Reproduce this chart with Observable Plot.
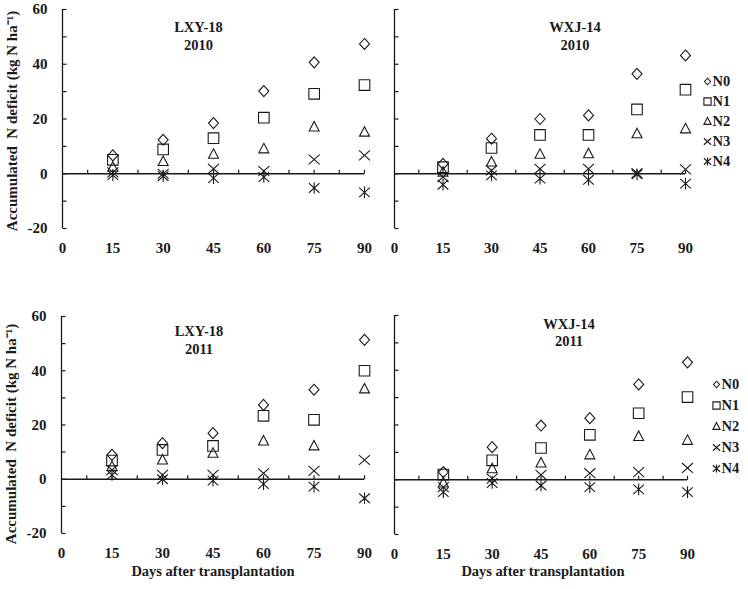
<!DOCTYPE html>
<html><head><meta charset="utf-8">
<script src="https://cdn.jsdelivr.net/npm/d3@7"></script>
<script src="https://cdn.jsdelivr.net/npm/@observablehq/plot@0.6"></script>
<style>
body{margin:0;background:#fff;}
#chart{position:relative;width:748px;height:589px;background:#fff;}
#chart svg{position:absolute;overflow:visible;}
</style></head><body><div id="chart"></div>
<script>
const days = [15, 30, 45, 60, 75, 90];
const series = ["N0", "N1", "N2", "N3", "N4"];
const xTicks = [0, 15, 30, 45, 60, 75, 90];
const xMinorTicks = [7.5, 15, 22.5, 30, 37.5, 45, 52.5, 60, 67.5, 75, 82.5, 90];
const yTicks = [-20, -10, 0, 10, 20, 30, 40, 50, 60];
const yLabels = [-20, 0, 20, 40, 60];
const yTitle = "Accumulated  N deficit (kg N ha\u207B\u00B9)";
const xTitle = "Days after transplantation";

// rows: N0..N4, columns: 15..90 days
const lxy2010 = [
  [6.7, 12.4, 18.5, 30.2, 40.7, 47.4],
  [5.1, 8.9, 13.0, 20.5, 29.2, 32.4],
  [2.4, 4.5, 7.1, 9.1, 17.1, 15.2],
  [0.5, 0.0, 1.8, 1.0, 5.2, 6.7],
  [-0.5, -0.9, -1.6, -1.2, -5.2, -6.8]
];
const wxj2010 = [
  [3.6, 12.8, 20.0, 21.3, 36.5, 43.2],
  [2.4, 9.4, 14.2, 14.2, 23.5, 30.7],
  [0.6, 4.3, 7.1, 7.3, 14.6, 16.4],
  [-1.2, 1.2, 1.8, 1.8, 0.2, 1.6],
  [-4.0, -0.6, -1.8, -2.2, -0.2, -3.6]
];
const lxy2011 = [
  [9.0, 13.3, 17.0, 27.4, 33.0, 51.4],
  [6.9, 10.8, 12.3, 23.4, 21.9, 40.0],
  [4.7, 7.1, 9.6, 14.1, 12.3, 33.3],
  [3.4, 1.6, 1.6, 2.2, 3.1, 7.1],
  [1.6, 0.0, -0.5, -1.8, -2.7, -7.0]
];
const wxj2011 = [
  [2.8, 11.9, 19.8, 22.5, 34.8, 42.9],
  [1.9, 7.1, 11.6, 16.4, 24.3, 30.2],
  [-1.2, 4.0, 6.1, 9.1, 15.8, 14.4],
  [-2.7, 0.4, 1.8, 2.4, 2.8, 4.3],
  [-4.5, -1.2, -2.1, -2.7, -3.5, -4.5]
];

const FONT = "Liberation Serif, Times New Roman, serif";
const INK = "#1a1a1a";
const rad = s => Math.sqrt(s / Math.PI);
const symbols = [
  {draw(c, s) { const r = rad(s); c.moveTo(0, -r * 1.1); c.lineTo(r, 0); c.lineTo(0, r * 1.1); c.lineTo(-r, 0); c.closePath(); }},
  {draw(c, s) { const r = rad(s); c.rect(-r, -r, 2 * r, 2 * r); }},
  {draw(c, s) { const r = rad(s); c.moveTo(0, -r * 1.1); c.lineTo(r, r * 0.8); c.lineTo(-r, r * 0.8); c.closePath(); }},
  {draw(c, s) { const r = rad(s); c.moveTo(-r, -r * 0.9); c.lineTo(r, r * 0.9); c.moveTo(-r, r * 0.9); c.lineTo(r, -r * 0.9); }},
  {draw(c, s) { const r = rad(s); c.moveTo(-r, -r * 0.9); c.lineTo(r, r * 0.9); c.moveTo(-r, r * 0.9); c.lineTo(r, -r * 0.9); c.moveTo(0, -r * 1.1); c.lineTo(0, r * 1.1); }}
];
const markR = [5, 5.3, 5, 5.5, 5.3];
const legendR = [3, 3.6, 3.6, 3.6, 3.6];
const tickUp = {draw(c, s) { const r = rad(s); c.moveTo(0, 0); c.lineTo(0, -r); }};
const tickRight = {draw(c, s) { const r = rad(s); c.moveTo(0, 0); c.lineTo(r, 0); }};

const chart = document.getElementById("chart");

function panel(cfg) {
  const marks = [
    Plot.ruleX([0], {stroke: INK, strokeWidth: 1.3}),
    Plot.ruleY([0], {x1: 0, x2: 90, stroke: INK, strokeWidth: 1.3}),
    Plot.dot(xMinorTicks, {x: d => d, y: 0, symbol: tickUp, r: 4, stroke: INK, strokeWidth: 1.2}),
    Plot.dot(yTicks, {x: 0, y: d => d, symbol: tickRight, r: 4, stroke: INK, strokeWidth: 1.2}),
    Plot.axisX({ticks: xTicks, tickSize: 0, tickPadding: 14, tickFormat: d => String(d),
      fontSize: 15, fontWeight: "bold", fill: INK, label: null}),
    Plot.text([cfg.title], {frameAnchor: "top", lineAnchor: "top", dx: cfg.tdx, dy: cfg.tdy,
      fontSize: 14.5, fontWeight: "bold", fill: INK, lineHeight: cfg.lh})
  ];
  if (cfg.yLabels) {
    marks.push(Plot.text(yLabels, {x: 0, y: d => d, text: d => String(d), dx: -15, textAnchor: "end",
      fontSize: 15, fontWeight: "bold", fill: INK}));
    marks.push(Plot.text([yTitle], {frameAnchor: "left", textAnchor: "middle", rotate: -90, dx: -50, dy: cfg.ytdy,
      fontSize: 15, fontWeight: "bold", fill: INK}));
  }
  cfg.data.forEach((vals, i) => {
    marks.push(Plot.dot(days.map((d, j) => ({day: d, v: vals[j]})), {
      x: "day", y: "v", symbol: symbols[i], r: markR[i], fill: "none", stroke: INK, strokeWidth: 1.1
    }));
  });
  if (cfg.xTitle) {
    marks.push(Plot.text([xTitle], {frameAnchor: "bottom", dx: cfg.xtdx, dy: cfg.xtdy,
      fontSize: 14.5, fontWeight: "bold", fill: INK}));
  }
  const svg = Plot.plot({
    width: cfg.w, height: cfg.h,
    marginLeft: cfg.ml, marginRight: cfg.mr, marginTop: cfg.mt, marginBottom: cfg.mb,
    x: {domain: [0, 90], axis: null},
    y: {domain: [-20, 60], axis: null},
    style: {background: "transparent", fontFamily: FONT, overflow: "visible", maxWidth: "none"},
    marks
  });
  svg.style.left = cfg.left + "px";
  svg.style.top = cfg.top + "px";
  chart.appendChild(svg);
}

function legend(cfg) {
  const marks = [];
  series.forEach((s, i) => {
    marks.push(Plot.dot([s], {y: d => d, frameAnchor: "left", dx: cfg.sdx, symbol: symbols[i], r: legendR[i],
      fill: "none", stroke: INK, strokeWidth: 1.1}));
  });
  marks.push(Plot.text(series, {y: d => d, text: d => d, frameAnchor: "left", dx: cfg.tdx, textAnchor: "start",
    fontSize: 14.5, fontWeight: "bold", fill: INK}));
  const svg = Plot.plot({
    width: 53, height: cfg.h, margin: 0,
    y: {type: "point", domain: series, range: cfg.range, axis: null},
    style: {background: "transparent", fontFamily: FONT, overflow: "visible", maxWidth: "none"},
    marks
  });
  svg.style.left = cfg.left + "px";
  svg.style.top = cfg.top + "px";
  chart.appendChild(svg);
}

panel({data: lxy2010, title: "LXY-18\n2010", left: 0, top: 0, w: 380, h: 290, ml: 62, mr: 16, mt: 9, mb: 62,
  yLabels: true, tdx: -15, tdy: 10, lh: 1.25, ytdy: 2});
panel({data: wxj2010, title: "WXJ-14\n2010", left: 370, top: 0, w: 378, h: 290, ml: 24, mr: 63, mt: 9, mb: 62,
  yLabels: false, tdx: 35, tdy: 10, lh: 1.25});
panel({data: lxy2011, title: "LXY-18\n2011", left: 0, top: 290, w: 380, h: 299, ml: 61, mr: 16, mt: 26, mb: 56,
  yLabels: true, tdx: -14, tdy: 7, lh: 1.25, ytdy: 9, xTitle: true, xtdx: 0, xtdy: 42});
panel({data: wxj2011, title: "WXJ-14\n2011", left: 370, top: 290, w: 378, h: 299, ml: 24, mr: 61, mt: 25, mb: 55,
  yLabels: false, tdx: 28, tdy: 1, lh: 1.2, xTitle: true, xtdx: 2, xtdy: 41});

legend({left: 695, top: 50, h: 140, range: [20, 121], sdx: 12, tdx: 17});
legend({left: 695, top: 355, h: 140, range: [18, 123], sdx: 21, tdx: 26});
</script></body></html>
